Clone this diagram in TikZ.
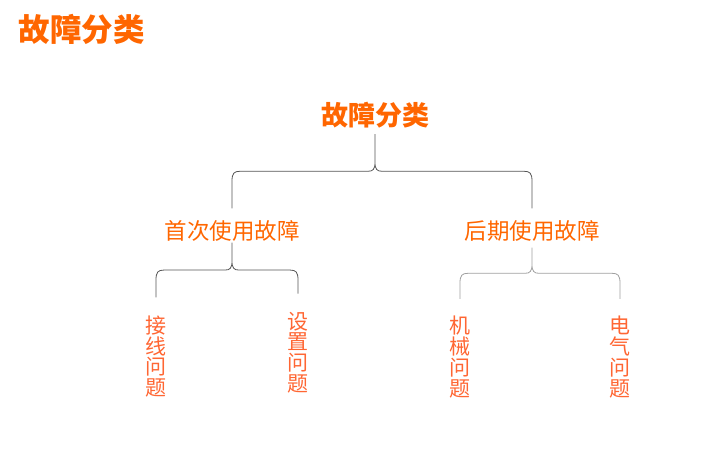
\documentclass[tikz,border=0pt]{standalone}
\usepackage{fontspec}
\setmainfont{Noto Sans CJK SC}
\usetikzlibrary{calc}
\definecolor{faultorange}{HTML}{FF6600}
\definecolor{leaforange}{HTML}{FF6633}
\definecolor{bracedark}{HTML}{555555}
\definecolor{bracelight}{HTML}{A0A0A0}
% brace from parent down to two children: style, parent, left, right, top gap, bottom gap
\newcommand\splitbrace[6]{%
  \draw[#1] let \p1=($(#2.south)+(0,-#5)$), \p2=($(#3.north)+(0,#6)$), \p3=($(#4.north)+(0,#6)$),
      \n1={(\y1+\y2)/2} in
    (\p1) -- (\x1,\n1+9pt) .. controls (\x1,\n1+2pt) and (\x1-2pt,\n1) .. (\x1-7pt,\n1)
      -- (\x2+8pt,\n1) .. controls (\x2+2pt,\n1) and (\x2,\n1-2pt) .. (\x2,\n1-10pt) -- (\p2)
    (\x1,\n1+9pt) .. controls (\x1,\n1+2pt) and (\x1+2pt,\n1) .. (\x1+7pt,\n1)
      -- (\x3-8pt,\n1) .. controls (\x3-2pt,\n1) and (\x3,\n1-2pt) .. (\x3,\n1-10pt) -- (\p3);
}
\begin{document}
\begin{tikzpicture}[x=1pt, y=-1pt,
    title/.style={text=faultorange, font=\bfseries\fontsize{31.5}{31.5}\selectfont, inner sep=0pt},
    root/.style={text=faultorange, font=\bfseries\fontsize{27}{27}\selectfont, inner sep=0pt},
    branch/.style={text=faultorange, font=\fontsize{22.5}{22.5}\selectfont, inner sep=0pt},
    leaf/.style={text=leaforange, font=\fontsize{21}{20.8}\selectfont, align=center, inner sep=0pt},
    brace/.style={line width=0.8pt, bracedark},
    lightbrace/.style={line width=0.8pt, bracelight}]
    \useasboundingbox (0,0) rectangle (724,465);
    \node[title] (heading) at (82,29) {故障分类};
    \node[root] (fault) at (375,115) {故障分类};
    \node[branch] (early) at (232,231) {首次使用故障};
    \node[branch] (late) at (532,231) {后期使用故障};
    \node[leaf] (wiring) at (156,356.5) {接\\线\\问\\题};
    \node[leaf] (setting) at (298,352.5) {设\\置\\问\\题};
    \node[leaf] (mech) at (460,357) {机\\械\\问\\题};
    \node[leaf] (elec) at (620,357) {电\\气\\问\\题};
    \splitbrace{brace}{fault}{early}{late}{6pt}{12pt}
    \splitbrace{brace}{early}{wiring}{setting}{1pt}{18pt}
    \splitbrace{lightbrace}{late}{mech}{elec}{6pt}{17pt}
\end{tikzpicture}
\end{document}
